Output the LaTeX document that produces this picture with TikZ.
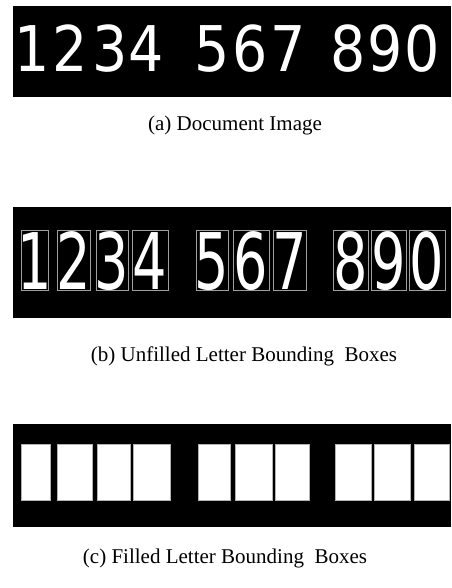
\documentclass[tikz,border=0pt]{standalone}
\usepackage{fontspec}
\setmainfont{Liberation Serif}
\newfontfamily\digitfont{DejaVu Sans}
\begin{document}
\begin{tikzpicture}[x=1pt,y=-1pt,
  panel/.style={fill=black, inner sep=0pt, anchor=north west, minimum width=438pt},
  digit/.style={text=white, font=\digitfont\fontsize{63}{63}\selectfont, anchor=base, inner sep=0pt},
  ubox/.style={draw=gray!75, line width=0.9pt, inner sep=0pt, anchor=north west},
  fbox/.style={draw=gray!60, fill=white, line width=0.9pt, inner sep=0pt, anchor=north west},
  captext/.style={font=\fontsize{21}{25}\selectfont, inner sep=0pt}]
\useasboundingbox (0,0) rectangle (451,588);
\fill[white] (0,0) rectangle (451,588);
% panel (a)
\node (pa) [panel, minimum height=91pt] at (13,6) {};
\foreach \d/\cx [count=\i] in {1/32,2/70,3/110,4/146,5/212,6/250,7/288,8/348,9/385,0/422}
  \node (ad\i) [digit] at (\cx,72) {\scalebox{0.88}[1]{\d}};
\node (ca) [captext] at (235,125) {(a) Document Image};
% panel (b)
\node (pb) [panel, minimum height=111pt] at (13,207) {};
\foreach \d/\xa/\xb [count=\i] in {1/21/48,2/57/90,3/96/128,4/132/168,5/196/228,6/233/269,7/273/306,8/333/368,9/371/406,0/409/445}{
  \node (bd\i) [digit] at ({(\xa+\xb)/2},289) {\scalebox{0.86}[1.24]{\d}};
  \node (bb\i) [ubox, minimum width={(\xb-\xa)*1pt}, minimum height=60pt] at (\xa,230) {};
}
\node (cb) [captext] at (244,356) {(b) Unfilled Letter Bounding\ \ Boxes};
% panel (c)
\node (pc) [panel, minimum height=103pt] at (13,424) {};
\foreach \xa/\xb [count=\i] in {21/50,57/92,97/130,133/170,198/230,235/272,275/309,335/371,374/410,414/449}
  \node (cb\i) [fbox, minimum width={(\xb-\xa)*1pt}, minimum height=56pt] at (\xa,444) {};
\node (cc) [captext] at (225,558) {(c) Filled Letter Bounding\ \ Boxes};
\end{tikzpicture}
\end{document}
